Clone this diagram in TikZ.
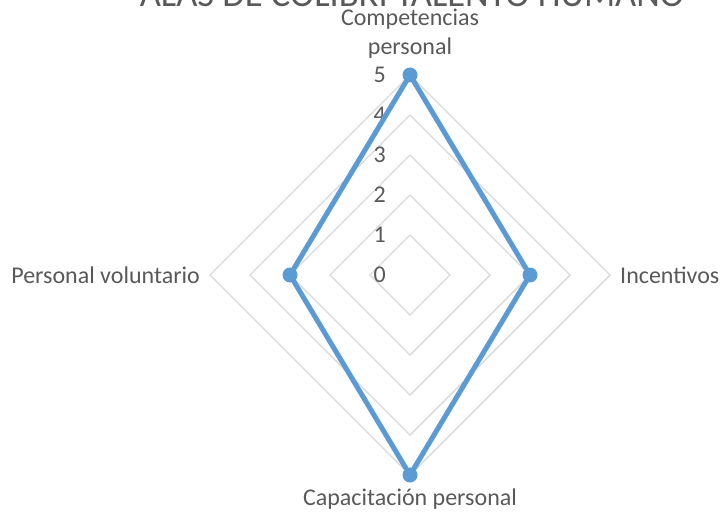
\documentclass[tikz,border=0pt]{standalone}
\usepackage{fontspec}
\setmainfont{Carlito}
\definecolor{txt}{HTML}{595959}
\definecolor{gridc}{HTML}{D9D9D9}
\definecolor{ser}{HTML}{5B9BD5}
\begin{document}
\begin{tikzpicture}[x=1pt,y=-1pt,
  gridline/.style={draw=gridc, line width=1.4pt},
  lbl/.style={text=txt, font=\fontsize{24}{30}\selectfont, inner sep=0pt},
  ttl/.style={text=txt, font=\fontsize{36.5}{40}\selectfont, inner sep=0pt},
  serline/.style={draw=ser, line width=5pt, line join=round},
  mk/.style={circle, fill=ser, minimum size=15pt, inner sep=0pt}]
\useasboundingbox (0,0) rectangle (722,516);
\foreach \r in {40,80,...,200}
  \draw[gridline] (410,275-\r) -- (410+\r,275) -- (410,275+\r) -- (410-\r,275) -- cycle;
\foreach \i in {0,...,5}
  \node[lbl, anchor=east] (t\i) at (386,275-40*\i) {\i};
\node[ttl, anchor=base] (title) at (412,7) {ALAS DE COLIBRI TALENTO HUMANO};
\node[lbl, anchor=base] (ltop1) at (410,26) {Competencias};
\node[lbl, anchor=base] (ltop2) at (410,55) {personal};
\node[lbl, anchor=base east] (lleft) at (200,283) {Personal voluntario};
\node[lbl, anchor=base west] (lright) at (620,283) {Incentivos};
\node[lbl, anchor=base] (lbot) at (410,505) {Capacitación personal};
\coordinate (c1) at (410,75);
\coordinate (c2) at (530,275);
\coordinate (c3) at (410,475);
\coordinate (c4) at (290,275);
\draw[serline] (c1) -- (c2) -- (c3) -- (c4) -- cycle;
\node[mk] (m1) at (c1) {};
\node[mk] (m2) at (c2) {};
\node[mk] (m3) at (c3) {};
\node[mk] (m4) at (c4) {};
\end{tikzpicture}
\end{document}
